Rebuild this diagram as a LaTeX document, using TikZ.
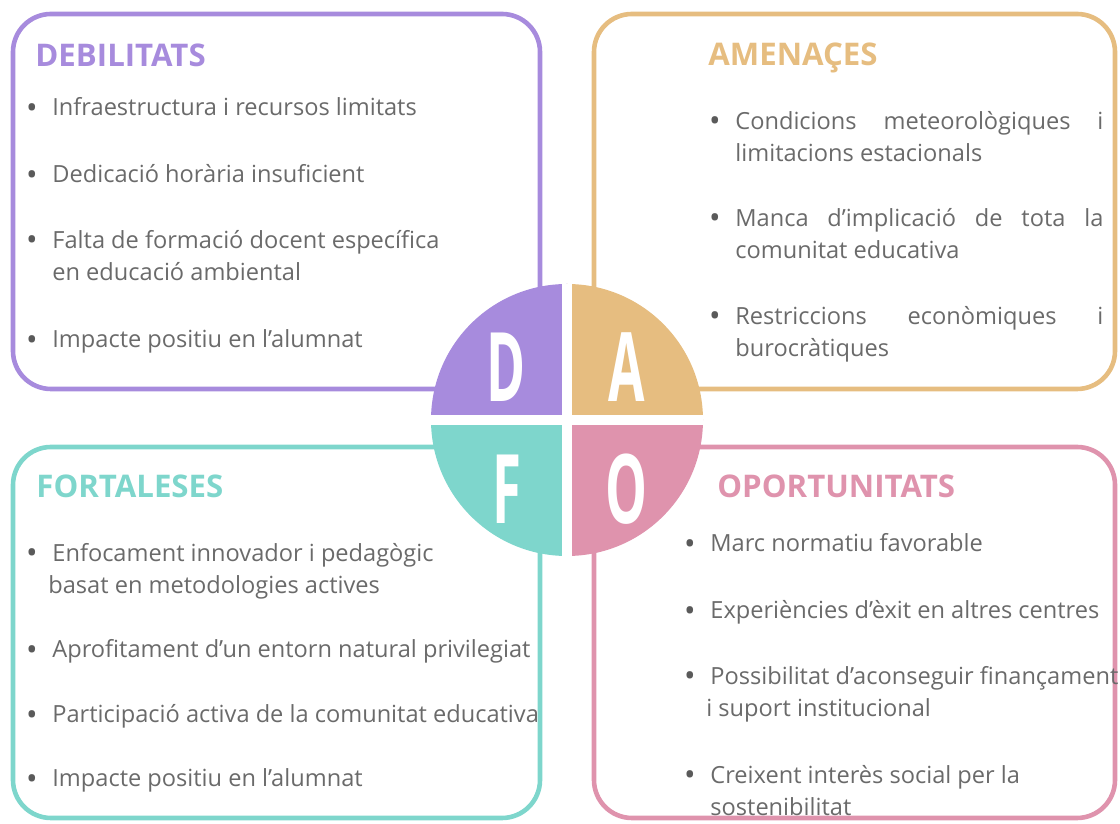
\documentclass[tikz,border=0pt]{standalone}
\usepackage{fontspec}
\setmainfont{Open Sans}
\usepackage{graphicx}
\usepackage{tikz}
\definecolor{debcolor}{HTML}{A78BDD}
\definecolor{amecolor}{HTML}{E6BD80}
\definecolor{forcolor}{HTML}{7ED6CC}
\definecolor{opocolor}{HTML}{DF93AD}
\definecolor{itemcolor}{HTML}{6A6A6A}
\definecolor{bulletcolor}{HTML}{5A5A5A}
\newcommand{\itemsize}{\fontsize{11.8}{16.25}\selectfont}
\newcommand{\titlesize}{\fontsize{15.6}{18}\selectfont\bfseries}
\newcommand{\lettersize}{\fontsize{48}{48}\selectfont\bfseries}
\newcommand{\dafoletter}[1]{\scalebox{0.55}[1]{#1}}
\newcommand{\bul}{\llap{\raisebox{-1.1pt}{\textcolor{bulletcolor}{\scalebox{1.3}{\textbullet}}}\hspace{7.4pt}}}
\tikzstyle{panel}=[line width=2.3pt, rounded corners=19pt]
\tikzstyle{title}=[inner sep=0, anchor=base west, font=\titlesize]
% multi-line entries sit on the baseline of their last line
\tikzstyle{entry}=[inner sep=0, anchor=base west, align=left, text=itemcolor, font=\itemsize]
\tikzstyle{letter}=[inner sep=0, text=white, font=\lettersize]
\tikzstyle{dafo}=[x=0.5pt, y=0.5pt]

\begin{document}
\begin{tikzpicture}[dafo]
        \useasboundingbox (0,0) rectangle (1120,824);
        \draw[panel, debcolor] (13,435) rectangle (540,810);
        \draw[panel, amecolor] (594,435) rectangle (1115,810);
        \draw[panel, forcolor] (13,6) rectangle (540,377);
        \draw[panel, opocolor] (594,6) rectangle (1115,377);
        % central circle, one quarter per panel
        \node[circle, minimum size=136pt, inner sep=0, outer sep=0] (dafo) at (567,404) {};
        \fill[debcolor] (dafo.center) -- (dafo.west) arc[start angle=180, end angle=90, radius=136] -- cycle;
        \fill[amecolor] (dafo.center) -- (dafo.north) arc[start angle=90, end angle=0, radius=136] -- cycle;
        \fill[opocolor] (dafo.center) -- (dafo.east) arc[start angle=0, end angle=-90, radius=136] -- cycle;
        \fill[forcolor] (dafo.center) -- (dafo.south) arc[start angle=-90, end angle=-180, radius=136] -- cycle;
        \draw[white, line width=5pt] (dafo.north) -- (dafo.south);
        \draw[white, line width=5pt] (dafo.west) -- (dafo.east);
        \node[letter] (letD) at (506,457) {\dafoletter{D}};
        \node[letter] (letA) at (627,457) {\dafoletter{A}};
        \node[letter] (letF) at (507,335) {\dafoletter{F}};
        \node[letter] (letO) at (627,335) {\dafoletter{O}};
        \node[title, text=debcolor] (debtitle) at (35,757) {DEBILITATS};
        \node[entry]                (deb1) at (52,708) {\bul Infraestructura i recursos limitats};
        \node[entry]                (deb2) at (52,641) {\bul Dedicació horària insuficient};
        \node[entry]                (deb3) at (52,543) {\bul Falta de formació docent específica\\en educació ambiental};
        \node[entry]                (deb4) at (52,476) {\bul Impacte positiu en l’alumnat};
        \node[title, text=amecolor] (ametitle) at (708,758) {AMENAÇES};
        \node[entry]                (ame1) at (735,662) {\bul\makebox[184pt][s]{Condicions meteorològiques i}\\limitacions estacionals};
        \node[entry]                (ame2) at (735,565) {\bul\makebox[184pt][s]{Manca d’implicació de tota la}\\comunitat educativa};
        \node[entry]                (ame3) at (735,467) {\bul\makebox[184pt][s]{Restriccions econòmiques i}\\burocràtiques};
        \node[title, text=forcolor] (fortitle) at (36,326) {FORTALESES};
        \node[entry]                (for1) at (52,230) {\bul Enfocament innovador i pedagògic\\\hspace*{-2pt}basat en metodologies actives};
        \node[entry]                (for2) at (52,166) {\bul Aprofitament d’un entorn natural privilegiat};
        \node[entry]                (for3) at (52,101) {\bul Participació activa de la comunitat educativa};
        \node[entry]                (for4) at (52,37) {\bul Impacte positiu en l’alumnat};
        \node[title, text=opocolor] (opotitle) at (717,326) {OPORTUNITATS};
        \node[entry]                (opo1) at (710,272) {\bul Marc normatiu favorable};
        \node[entry]                (opo2) at (710,205) {\bul Experiències d’èxit en altres centres};
        \node[entry]                (opo3) at (710,107) {\bul Possibilitat d’aconseguir finançament\\\hspace*{-2pt}i suport institucional};
        \node[entry]                (opo4) at (710,8) {\bul Creixent interès social per la\\sostenibilitat};
    \end{tikzpicture}
\end{document}
